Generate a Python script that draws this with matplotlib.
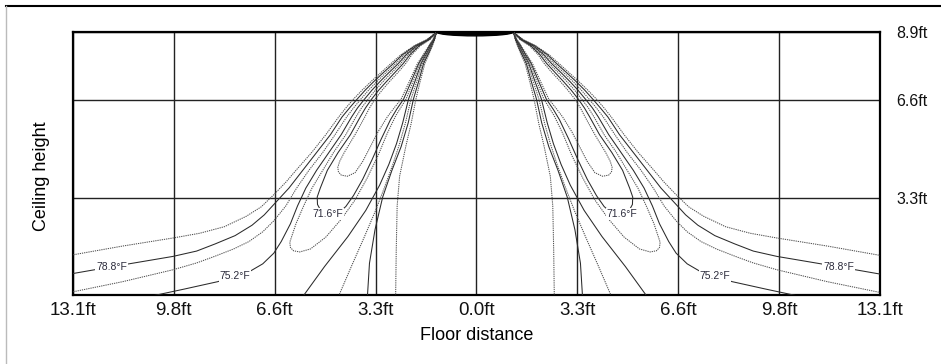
import matplotlib
matplotlib.use("Agg")
import matplotlib.pyplot as plt
from matplotlib.patches import Ellipse
from matplotlib.lines import Line2D

plt.rcParams['font.family'] = ['Liberation Sans', 'DejaVu Sans']

# axes (ft)
x_ticks = [-13.12, -9.84, -6.56, -3.28, 0.0, 3.28, 6.56, 9.84, 13.12]
x_labels = ["13.1ft", "9.8ft", "6.6ft", "3.3ft", "0.0ft", "3.3ft", "6.6ft", "9.8ft", "13.1ft"]
y_ticks = [3.28, 6.56, 8.86]
y_labels = ["3.3ft", "6.6ft", "8.9ft"]
room_height = 8.86

# diffuser at the ceiling
diffuser_center = -0.05
diffuser_width = 2.5

# isotherms, left half (x, y in ft)
iso_806 = [(-13.25, 1.33), (-11.5, 1.65), (-9.87, 1.92), (-9.0, 2.08), (-8.2, 2.3),
           (-7.49, 2.65), (-7.0, 2.97), (-6.59, 3.38), (-6.2, 3.8), (-5.87, 4.2),
           (-5.36, 4.8), (-4.9, 5.4), (-4.48, 6.0), (-4.25, 6.3),
           (-4.0, 6.6), (-3.72, 6.9), (-3.42, 7.2), (-3.1, 7.5), (-2.78, 7.8),
           (-2.45, 8.1), (-2.02, 8.4), (-1.62, 8.6), (-1.3, 8.85),
           (-1.36, 8.6), (-1.43, 8.4), (-1.55, 8.1), (-1.68, 7.8), (-1.83, 7.2),
           (-1.97, 6.6), (-2.12, 5.8), (-2.3, 5.0), (-2.5, 4.0), (-2.58, 3.0),
           (-2.61, 1.5), (-2.63, -0.1)]
iso_788 = [(-13.25, 0.7), (-11.87, 0.95), (-9.87, 1.3), (-9.1, 1.48), (-8.5, 1.72),
           (-7.85, 2.0), (-7.3, 2.35), (-6.9, 2.7), (-6.59, 3.05), (-6.1, 3.6),
           (-5.65, 4.2), (-5.2, 4.8), (-4.75, 5.4),
           (-4.37, 6.0), (-4.13, 6.3), (-3.88, 6.6), (-3.62, 6.9), (-3.33, 7.2),
           (-3.02, 7.5), (-2.7, 7.8), (-2.4, 8.1), (-1.99, 8.4), (-1.6, 8.6),
           (-1.3, 8.85),
           (-1.37, 8.6), (-1.45, 8.4), (-1.58, 8.1), (-1.72, 7.8), (-1.88, 7.2),
           (-2.05, 6.6), (-2.22, 5.8), (-2.45, 5.0), (-2.75, 4.2), (-3.05, 3.3),
           (-3.3, 2.2), (-3.48, 1.07), (-3.55, -0.1)]
iso_770 = [(-13.25, 0.08), (-11.5, 0.45), (-9.87, 0.85), (-9.1, 1.08), (-8.52, 1.3),
           (-7.9, 1.55), (-7.4, 1.8), (-6.95, 2.13), (-6.59, 2.5), (-6.2, 3.0),
           (-5.85, 3.6), (-5.45, 4.2), (-5.0, 4.8),
           (-4.6, 5.4), (-4.22, 6.0), (-4.0, 6.3), (-3.76, 6.6), (-3.51, 6.9),
           (-3.23, 7.2), (-2.93, 7.5), (-2.62, 7.8), (-2.34, 8.1), (-1.96, 8.4),
           (-1.59, 8.6), (-1.3, 8.85),
           (-1.38, 8.6), (-1.47, 8.4), (-1.61, 8.1), (-1.76, 7.8), (-1.94, 7.2),
           (-2.13, 6.6), (-2.31, 5.8), (-2.5, 5.1), (-2.72, 4.4), (-3.0, 3.6),
           (-3.3, 2.8), (-3.65, 1.95), (-4.07, 0.96), (-4.51, -0.1)]
iso_752 = [(-10.63, -0.05), (-9.5, 0.2), (-8.41, 0.45), (-7.85, 0.63), (-7.38, 0.79),
           (-6.95, 1.05), (-6.59, 1.41),
           (-6.35, 1.8), (-6.05, 2.4), (-5.82, 3.0), (-5.55, 3.6), (-5.2, 4.2),
           (-4.8, 4.8), (-4.4, 5.4), (-4.06, 6.0), (-3.87, 6.3), (-3.64, 6.6),
           (-3.4, 6.9), (-3.13, 7.2), (-2.84, 7.5), (-2.54, 7.8), (-2.28, 8.1),
           (-1.93, 8.4), (-1.57, 8.6), (-1.3, 8.85),
           (-1.39, 8.6), (-1.49, 8.4), (-1.64, 8.1), (-1.8, 7.8), (-2.0, 7.2),
           (-2.21, 6.6), (-2.4, 5.8), (-2.6, 5.1), (-2.85, 4.4), (-3.15, 3.7),
           (-3.6, 2.85), (-4.18, 1.97), (-4.94, 0.96), (-5.68, -0.1)]
iso_734 = [(-1.3, 8.85), (-1.55, 8.6), (-1.89, 8.4), (-2.22, 8.1), (-2.46, 7.8),
           (-2.75, 7.5), (-3.03, 7.2), (-3.29, 6.9), (-3.52, 6.6), (-3.74, 6.3),
           (-3.92, 6.0), (-4.25, 5.4), (-4.65, 4.8), (-5.0, 4.2), (-5.35, 3.6),
           (-5.62, 3.0), (-5.87, 2.4), (-6.0, 2.0), (-6.07, 1.78), (-6.05, 1.6),
           (-5.95, 1.49), (-5.75, 1.45), (-5.4, 1.55), (-4.9, 1.95), (-4.4, 2.55),
           (-3.95, 3.2), (-3.55, 3.95), (-3.2, 4.7), (-2.9, 5.45), (-2.62, 6.05),
           (-2.29, 6.6), (-2.06, 7.2), (-1.84, 7.8), (-1.67, 8.1), (-1.51, 8.4),
           (-1.4, 8.6), (-1.3, 8.85)]
iso_716 = [(-1.3, 8.85), (-1.54, 8.6), (-1.86, 8.4), (-2.16, 8.1), (-2.38, 7.8),
           (-2.65, 7.5), (-2.92, 7.2), (-3.18, 6.9), (-3.41, 6.6), (-3.61, 6.3),
           (-3.78, 6.0), (-4.1, 5.4), (-4.5, 4.8), (-4.85, 4.2), (-5.08, 3.6),
           (-5.18, 3.3), (-5.17, 3.05), (-5.07, 2.86), (-4.9, 2.75), (-4.65, 2.72),
           (-4.45, 2.8), (-4.25, 2.98), (-4.0, 3.35), (-3.7, 3.9), (-3.4, 4.55),
           (-3.1, 5.25), (-2.8, 5.9), (-2.6, 6.25), (-2.37, 6.6), (-2.12, 7.2),
           (-1.88, 7.8), (-1.7, 8.1), (-1.53, 8.4), (-1.41, 8.6), (-1.3, 8.85)]
iso_698 = [(-1.3, 8.85), (-1.52, 8.6), (-1.82, 8.4), (-2.1, 8.1), (-2.3, 7.8),
           (-2.55, 7.5), (-2.82, 7.2), (-3.07, 6.9), (-3.3, 6.6), (-3.48, 6.3),
           (-3.63, 6.0), (-3.95, 5.4), (-4.3, 4.8), (-4.45, 4.5), (-4.51, 4.3),
           (-4.49, 4.15), (-4.4, 4.04), (-4.2, 4.0), (-3.95, 4.12), (-3.7, 4.5),
           (-3.45, 5.0), (-3.2, 5.5), (-2.9, 6.0), (-2.68, 6.3), (-2.45, 6.6),
           (-2.18, 7.2), (-1.92, 7.8), (-1.73, 8.1), (-1.55, 8.4), (-1.42, 8.6),
           (-1.3, 8.85)]

isotherms = [iso_806, iso_788, iso_770, iso_752, iso_734, iso_716, iso_698]
dashed = [True, False, True, False, True, False, True]

label_text = ["78.8°F", "75.2°F", "71.6°F"]
label_x = [-11.87, -7.85, -4.84]
label_y = [0.95, 0.63, 2.72]

mirror_axis = -0.05  # right half is the left half flipped about this x


def flip(x):
    return 2 * mirror_axis - x


fig = plt.figure(figsize=(9.41, 3.64), dpi=100)
ax = fig.add_axes([73 / 941, 69 / 364, 807 / 941, 263 / 364])

for pts, dsh in zip(isotherms, dashed):
    xs = [p[0] for p in pts]
    ys = [p[1] for p in pts]
    if dsh:
        style = dict(color="#505050", lw=0.75, ls=(0, (1.2, 0.9)))
    else:
        style = dict(color="#2a2a2a", lw=0.75, ls="-")
    ax.plot(xs, ys, zorder=3, solid_joinstyle="round", **style)
    ax.plot([flip(v) for v in xs], ys, zorder=3, solid_joinstyle="round", **style)

for t, lx, ly in zip(label_text, label_x, label_y):
    for xx in (lx, flip(lx)):
        ax.text(xx, ly, t, fontsize=7.5, color="#2b2b3b", ha="center", va="center",
                zorder=4, bbox=dict(fc="white", ec="none", pad=0.6))

ax.add_patch(Ellipse((diffuser_center, room_height), diffuser_width, 0.26,
                     color="black", zorder=5))

ax.set_xlim(x_ticks[0], x_ticks[-1])
ax.set_ylim(0, room_height)
ax.set_xticks(x_ticks)
ax.set_xticklabels(x_labels, fontsize=13.5)
ax.set_yticks(y_ticks)
ax.set_yticklabels(y_labels, fontsize=11.5)
ax.yaxis.tick_right()
ax.tick_params(axis="both", length=0, colors="#111111")
ax.tick_params(axis="x", pad=5)
ax.tick_params(axis="y", pad=12)
ax.grid(True, color="#222222", lw=1.0, zorder=1)
ax.set_axisbelow(True)
for s in ax.spines.values():
    s.set_linewidth(1.6)
    s.set_color("black")

fig.text(477 / 941, 1 - 336 / 364, "Floor distance", fontsize=13, ha="center", va="center")
fig.text(42 / 941, 1 - 176 / 364, "Ceiling height", fontsize=13, ha="center", va="center",
         rotation=90)

# outer frame of the original image
fig.add_artist(Line2D([6 / 941, 1], [1 - 6 / 364] * 2, color="black", lw=1.5))
fig.add_artist(Line2D([6 / 941] * 2, [0, 1 - 6 / 364], color="#bbbbbb", lw=1))

fig.savefig("out.png", dpi=100)
